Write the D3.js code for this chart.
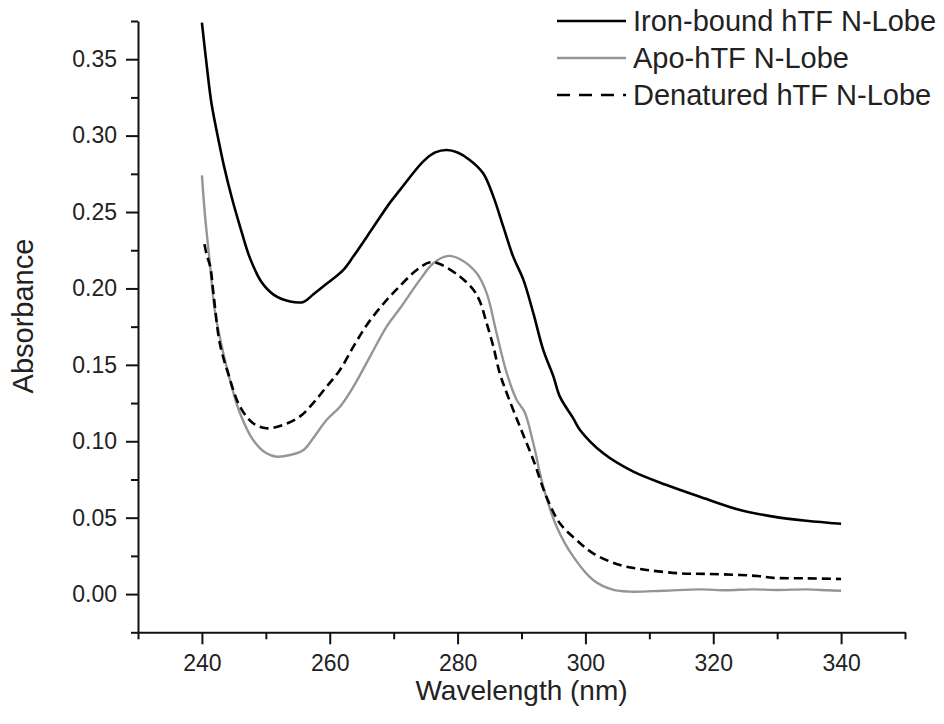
<!DOCTYPE html>
<html>
<head>
<meta charset="utf-8">
<script src="https://cdn.jsdelivr.net/npm/d3@7"></script>
<style>
  body { margin: 0; background: #fff; }
  svg text { font-family: "Liberation Sans", Arial, sans-serif; fill: #222; }
</style>
</head>
<body>
<div id="chart"></div>
<script>
const width = 944;
const height = 724;

// [wavelength nm, absorbance]
const ironBound = [
  [240.0, 0.374], [240.75, 0.346], [241.5, 0.321], [242.6, 0.297], [243.4, 0.281],
  [244.7, 0.259], [246.0, 0.240], [247.5, 0.220], [249.35, 0.204], [251.2, 0.196],
  [253.8, 0.1915], [255.9, 0.1912], [257.4, 0.196], [259.5, 0.203], [262.1, 0.212],
  [263.7, 0.221], [266.8, 0.240], [269.4, 0.256], [271.0, 0.2645], [274.6, 0.283],
  [276.5, 0.289], [278.3, 0.2906], [280.0, 0.289], [281.9, 0.2841], [284.0, 0.2754],
  [285.6, 0.2601], [287.15, 0.2404], [288.7, 0.2208], [290.3, 0.2056], [291.85, 0.1838],
  [293.4, 0.1598], [295.0, 0.1423], [296.0, 0.1292], [298.1, 0.115], [299.15, 0.1074],
  [302.8, 0.0921], [307.5, 0.0801], [312.7, 0.0714], [317.9, 0.0637], [324.2, 0.0550],
  [329.4, 0.0507], [334.6, 0.0480], [340.0, 0.046]
];

const apo = [
  [240.0, 0.274], [240.5, 0.247], [241.3, 0.2143], [242.0, 0.186], [243.35, 0.1576],
  [244.66, 0.1357], [245.96, 0.1183], [248.0, 0.1009], [250.1, 0.0921], [251.7, 0.0899],
  [253.8, 0.0910], [255.9, 0.0943], [257.4, 0.1020], [259.5, 0.1139], [261.6, 0.1226],
  [263.7, 0.1357], [266.3, 0.1554], [268.9, 0.1750], [271.0, 0.1870], [274.1, 0.2056],
  [276.2, 0.2165], [278.55, 0.2213], [280.4, 0.2191], [283.0, 0.2099], [284.55, 0.1969],
  [286.1, 0.1707], [287.7, 0.1445], [289.25, 0.1270], [290.5, 0.119], [291.85, 0.0987],
  [293.4, 0.0703], [295.5, 0.0441], [298.1, 0.0245], [301.2, 0.0092], [304.4, 0.0027],
  [307.0, 0.0016], [312.2, 0.0022], [317.9, 0.0031], [322.0, 0.0025], [326.0, 0.0031],
  [330.0, 0.0027], [334.6, 0.0031], [338.0, 0.0025], [340.0, 0.0022]
];

const denatured = [
  [240.4, 0.229], [240.75, 0.222], [241.3, 0.2143], [241.8, 0.1969], [242.8, 0.1641],
  [244.1, 0.1445], [245.96, 0.1226], [248.0, 0.1118], [250.1, 0.1085], [252.7, 0.1107],
  [255.3, 0.1161], [257.4, 0.1249], [259.5, 0.1357], [261.6, 0.1467], [263.7, 0.1619],
  [265.8, 0.1761], [268.4, 0.1900], [270.5, 0.1995], [273.6, 0.2121], [275.7, 0.2171],
  [277.2, 0.2160], [280.4, 0.2077], [282.5, 0.1990], [283.5, 0.1914], [284.55, 0.1772],
  [285.6, 0.1619], [286.6, 0.1445], [287.7, 0.1314], [289.75, 0.1096], [291.85, 0.0878],
  [293.9, 0.0637], [296.0, 0.0463], [298.6, 0.0354], [301.2, 0.0267], [305.4, 0.0190],
  [309.6, 0.0158], [314.8, 0.0136], [319.0, 0.0132], [324.2, 0.0125], [327.0, 0.0118],
  [329.4, 0.0106], [334.6, 0.0103], [340.0, 0.0099]
];

const seriesNames = ["Iron-bound hTF N-Lobe", "Apo-hTF N-Lobe", "Denatured hTF N-Lobe"];
const xMajor = [240, 260, 280, 300, 320, 340];
const xMinor = [230, 250, 270, 290, 310, 330, 350];
const yMajor = [0, 0.05, 0.10, 0.15, 0.20, 0.25, 0.30, 0.35];
const yMinor = [-0.025, 0.025, 0.075, 0.125, 0.175, 0.225, 0.275, 0.325, 0.375];

const styles = [
  { color: "#000", width: 2.6, dash: null },
  { color: "#959595", width: 2.4, dash: null },
  { color: "#000", width: 2.6, dash: "9,5" }
];

const svg = d3.select("#chart")
  .append("svg")
  .attr("width", width)
  .attr("height", height);

const x = d3.scaleLinear().domain([230, 350]).range([138, 905]);
const y = d3.scaleLinear().domain([-0.025, 0.375]).range([632.3, 21]);

// x axis
const xAxisG = svg.append("g").attr("transform", `translate(0,${y(-0.025)})`);
xAxisG.call(d3.axisBottom(x).tickValues(xMajor).tickSize(12).tickSizeOuter(0).tickPadding(10)
  .tickFormat(d3.format("d")));
xAxisG.append("g").call(d3.axisBottom(x).tickValues(xMinor).tickSize(7).tickSizeOuter(0).tickFormat(""))
  .select(".domain").remove();

// y axis
const yAxisG = svg.append("g").attr("transform", `translate(${x(230)},0)`);
yAxisG.call(d3.axisLeft(y).tickValues(yMajor).tickSize(12).tickSizeOuter(0).tickPadding(9)
  .tickFormat(d3.format(".2f")));
yAxisG.append("g").call(d3.axisLeft(y).tickValues(yMinor).tickSize(7).tickSizeOuter(0).tickFormat(""))
  .select(".domain").remove();

svg.selectAll(".domain").attr("stroke", "#111").attr("stroke-width", 2);
svg.selectAll(".tick line").attr("stroke", "#111").attr("stroke-width", 2);
svg.selectAll(".tick text").style("font-size", "23px").attr("fill", "#222");

// axis titles
svg.append("text")
  .attr("x", (x(230) + x(350)) / 2)
  .attr("y", 700)
  .style("text-anchor", "middle")
  .style("font-size", "28px")
  .text("Wavelength (nm)");

svg.append("text")
  .attr("transform", `rotate(-90)`)
  .attr("x", -316)
  .attr("y", 33)
  .style("text-anchor", "middle")
  .style("font-size", "29px")
  .text("Absorbance");

// lines
const line = d3.line()
  .x(d => x(d[0]))
  .y(d => y(d[1]))
  .curve(d3.curveCatmullRom.alpha(0.5));

const allSeries = [ironBound, apo, denatured];
[1, 2, 0].forEach(i => {
  svg.append("path")
    .datum(allSeries[i])
    .attr("fill", "none")
    .attr("stroke", styles[i].color)
    .attr("stroke-width", styles[i].width)
    .attr("stroke-dasharray", styles[i].dash)
    .attr("stroke-linejoin", "round")
    .attr("d", line);
});

// legend
const legend = svg.append("g");
seriesNames.forEach((name, i) => {
  const ly = 21 + i * 37;
  legend.append("line")
    .attr("x1", 557).attr("x2", 626)
    .attr("y1", ly).attr("y2", ly)
    .attr("stroke", styles[i].color)
    .attr("stroke-width", styles[i].width)
    .attr("stroke-dasharray", styles[i].dash ? "13,9" : null);
  legend.append("text")
    .attr("x", 633)
    .attr("y", ly)
    .attr("dy", "0.36em")
    .style("font-size", "29px")
    .text(name);
});
</script>
</body>
</html>
